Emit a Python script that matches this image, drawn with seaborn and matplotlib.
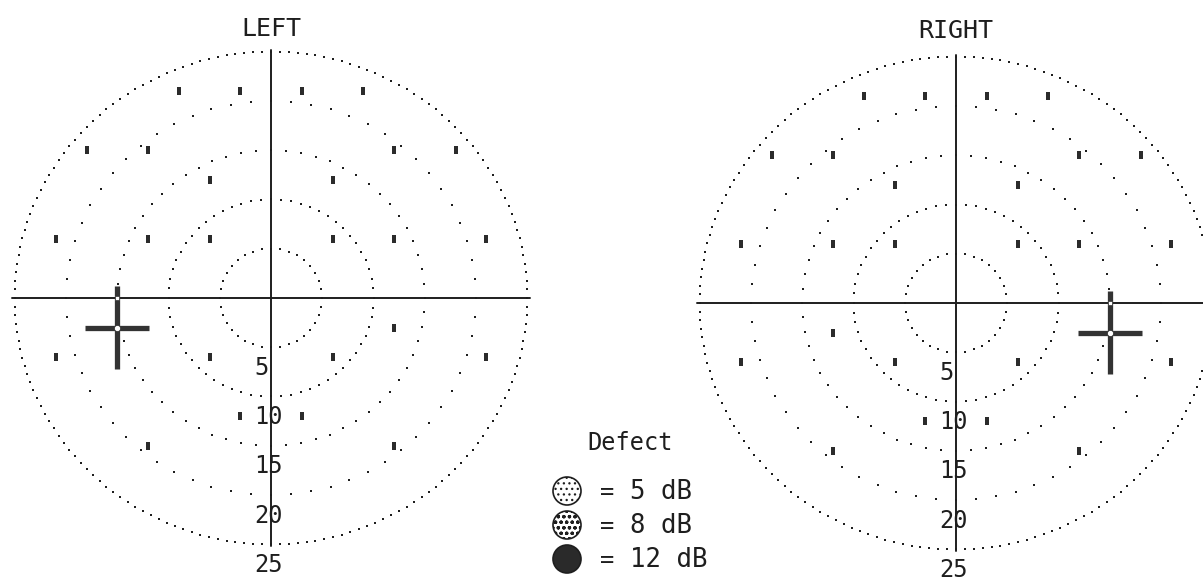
import numpy as np
import pandas as pd
import matplotlib
matplotlib.use('Agg')
import matplotlib.pyplot as plt
from matplotlib.markers import MarkerStyle
from matplotlib.transforms import Affine2D
from matplotlib.patches import Circle
import seaborn as sns

# -------------------- data (degrees of visual field) --------------------
ring_radii = [5, 10, 15, 20, 25]
ring_labels = ['5', '10', '15', '20', '25']

left_x = [-9, -3, 3, 9, -18, -12, 12, 18, -6, 6, -21, -12, -6, 6, 12, 21,
          12, -21, -6, 6, 21, -3, 3, -12, 12]
left_y = [21, 21, 21, 21, 15, 15, 15, 15, 12, 12, 6, 6, 6, 6, 6, 6,
          -3, -6, -6, -6, -6, -12, -12, -15, -15]

right_x = [-9, -3, 3, 9, -18, -12, 12, 18, -6, 6, -21, -12, -6, 6, 12, 21,
           -12, -21, -6, 6, 21, -3, 3, -12, 12]
right_y = [21, 21, 21, 21, 15, 15, 15, 15, 12, 12, 6, 6, 6, 6, 6, 6,
           -3, -6, -6, -6, -6, -12, -12, -15, -15]

blind_left = (-15, -3)
blind_right = (15, -3)

defect_db = [5, 8, 12]
defect_hatch = ['...', 'ooo', None]

# -------------------- layout (pixels) --------------------
W, H = 1203, 583
PX_X, PX_Y = 10.25, 9.85      # pixels per degree
XL, YL = 27.0, 29.5
ring_dots = [36, 64, 64, 64, 180]
INK = '#1e1e1e'

sns.set_theme(style='white')
plt.rcParams['font.family'] = ['DejaVu Sans Mono']
plt.rcParams['hatch.linewidth'] = 0.9

fig = plt.figure(figsize=(W / 100, H / 100), dpi=100)
fig.patch.set_facecolor('white')


def field_axes(cx, cy):
    w = 2 * XL * PX_X
    h = 2 * YL * PX_Y
    ax = fig.add_axes([(cx - w / 2) / W, (H - cy - h / 2) / H, w / W, h / H])
    ax.set_xlim(-XL, XL)
    ax.set_ylim(-YL, YL)
    ax.set_axis_off()
    return ax


def draw_field(ax, name, xs, ys, blind, title_y):
    # dotted isopter rings
    parts = []
    for r, n in zip(ring_radii, ring_dots):
        t = np.linspace(0, 2 * np.pi, n, endpoint=False)
        parts.append(pd.DataFrame({'x': r * np.cos(t), 'y': r * np.sin(t)}))
    rings = pd.concat(parts, ignore_index=True)
    sns.scatterplot(data=rings, x='x', y='y', ax=ax, marker='s', s=2.4,
                    color=INK, linewidth=0, legend=False)

    # cross-hair axes
    ax.plot([-25.3, 25.3], [0, 0], color=INK, lw=1.4, zorder=2)
    ax.plot([0, 0], [-25.2, 25.2], color=INK, lw=1.4, zorder=2)

    # test locations
    rect = MarkerStyle('s', transform=Affine2D().scale(0.62, 1.0))
    sns.scatterplot(x=xs, y=ys, ax=ax, marker=rect, s=32, color='#2b2b2b',
                    linewidth=0, legend=False, zorder=3)

    # blind spot marker
    bx, by = blind
    ax.plot([bx - 3.1, bx + 3.1], [by, by], color='#333333', lw=3.8,
            solid_capstyle='butt', zorder=4)
    ax.plot([bx, bx], [by + 4.2, by - 4.2], color='#333333', lw=3.8,
            solid_capstyle='butt', zorder=4)
    ax.plot([bx], [by], marker='o', ms=4.5, mfc='white', mec='#333333',
            mew=0.6, zorder=5)
    ax.plot([bx], [0], marker='s', ms=3.2, mfc='white', mec='#333333',
            mew=0.5, zorder=5)

    # eccentricity labels
    for r, lab in zip(ring_radii, ring_labels):
        ax.text(-1.6, -(r + 2.1), lab, ha='left', va='center',
                fontsize=17, color=INK, zorder=6)

    ax.text(0, title_y, name, ha='center', va='center', fontsize=18, color=INK)


ax_l = field_axes(271, 298)
draw_field(ax_l, 'LEFT', left_x, left_y, blind_left, 27.3)

ax_r = field_axes(956, 303)
draw_field(ax_r, 'RIGHT', right_x, right_y, blind_right, 27.6)

# -------------------- defect legend --------------------
lax = fig.add_axes([0, 0, 1, 1], zorder=-1)
lax.set_xlim(0, W)
lax.set_ylim(H, 0)
lax.set_axis_off()

lax.text(630, 443, 'Defect', ha='center', va='center', fontsize=17, color=INK)
row_y = [491, 525, 559]
for yy, db, hatch in zip(row_y, defect_db, defect_hatch):
    if hatch is None:
        c = Circle((567, yy), 14, facecolor='#2a2a2a', edgecolor=INK, lw=1.2)
    else:
        c = Circle((567, yy), 14, facecolor='white', edgecolor=INK, lw=1.2,
                   hatch=hatch)
    lax.add_patch(c)
    lax.text(607, yy + 1, '=', ha='center', va='center', fontsize=17, color=INK)
    lax.text(630, yy + 1, f'{db} dB', ha='left', va='center', fontsize=18.5,
             color=INK)

fig.savefig('out.png', dpi=100, facecolor='white')
